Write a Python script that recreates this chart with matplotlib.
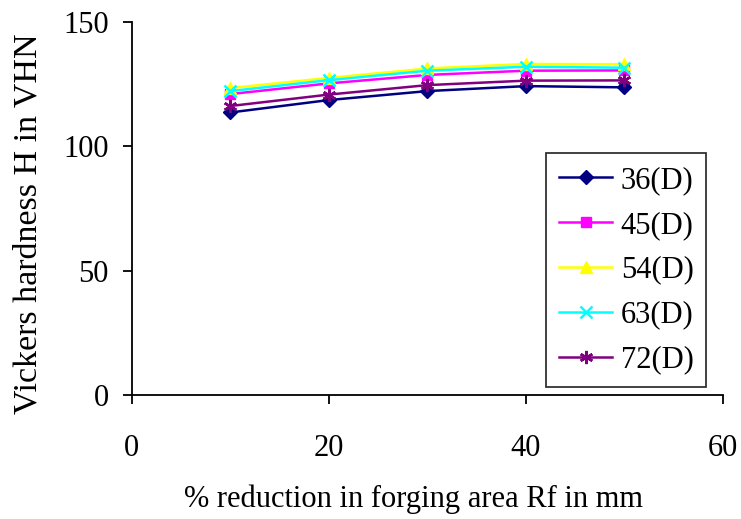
import matplotlib.pyplot as plt

reduction = [10, 20, 30, 40, 50]
h36 = [113.6, 118.6, 122.2, 124.2, 123.7]
h45 = [121.0, 125.3, 128.7, 130.4, 130.5]
h54 = [123.4, 127.5, 131.3, 133.1, 133.0]
h63 = [122.2, 126.6, 130.4, 132.0, 131.6]
h72 = [116.2, 120.8, 124.6, 126.4, 126.5]

labels = ["36(D)", "45(D)", "54(D)", "63(D)", "72(D)"]
series = [h36, h45, h54, h63, h72]
colors = ["#000080", "#FF00FF", "#FFFF00", "#00FFFF", "#800080"]
markers = ["D", "s", "^", "x", (6, 2, 0)]
msizes = [7.5, 7.5, 8.5, 8.5, 9.5]

plt.rcParams['font.family'] = ['Liberation Serif', 'DejaVu Serif']

fig = plt.figure(figsize=(7.41, 5.19), dpi=100)
ax = fig.add_axes([0.178, 0.239, 0.7976, 0.7187])

for y, lab, c, m, ms in zip(series, labels, colors, markers, msizes):
    ax.plot(reduction, y, color=c, marker=m, markersize=ms, linewidth=1.8,
            markeredgewidth=1.8 if m in ("x", (6, 2, 0)) else 1, label=lab)

ax.set_xlim(0, 60)
ax.set_ylim(0, 150)
ax.set_xticks([0, 20, 40, 60])
ax.set_yticks([0, 50, 100, 150])
ax.spines['top'].set_visible(False)
ax.spines['right'].set_visible(False)
for s in ('left', 'bottom'):
    ax.spines[s].set_linewidth(1.3)
ax.tick_params(labelsize=22, direction='out', length=6.5, width=1.3)
ax.tick_params(axis='y', pad=10)
ax.tick_params(axis='x', pad=21.5)
ax.set_xlabel("% reduction in forging area Rf in mm", fontsize=22)
ax.set_ylabel("Vickers hardness H in VHN", fontsize=24.5)
ax.xaxis.set_label_coords(0.477, -0.239)
ax.yaxis.set_label_coords(-0.149, 0.458)

leg = ax.legend(loc='upper left', bbox_to_anchor=(0.737, 0.705),
                bbox_transform=fig.transFigure, fontsize=22,
                frameon=True, fancybox=False, edgecolor='black',
                handlelength=1.75, labelspacing=0.52, borderpad=0.42,
                handletextpad=0.27, borderaxespad=0)
leg.get_frame().set_linewidth(1.3)

fig.savefig("out.png", dpi=100)
